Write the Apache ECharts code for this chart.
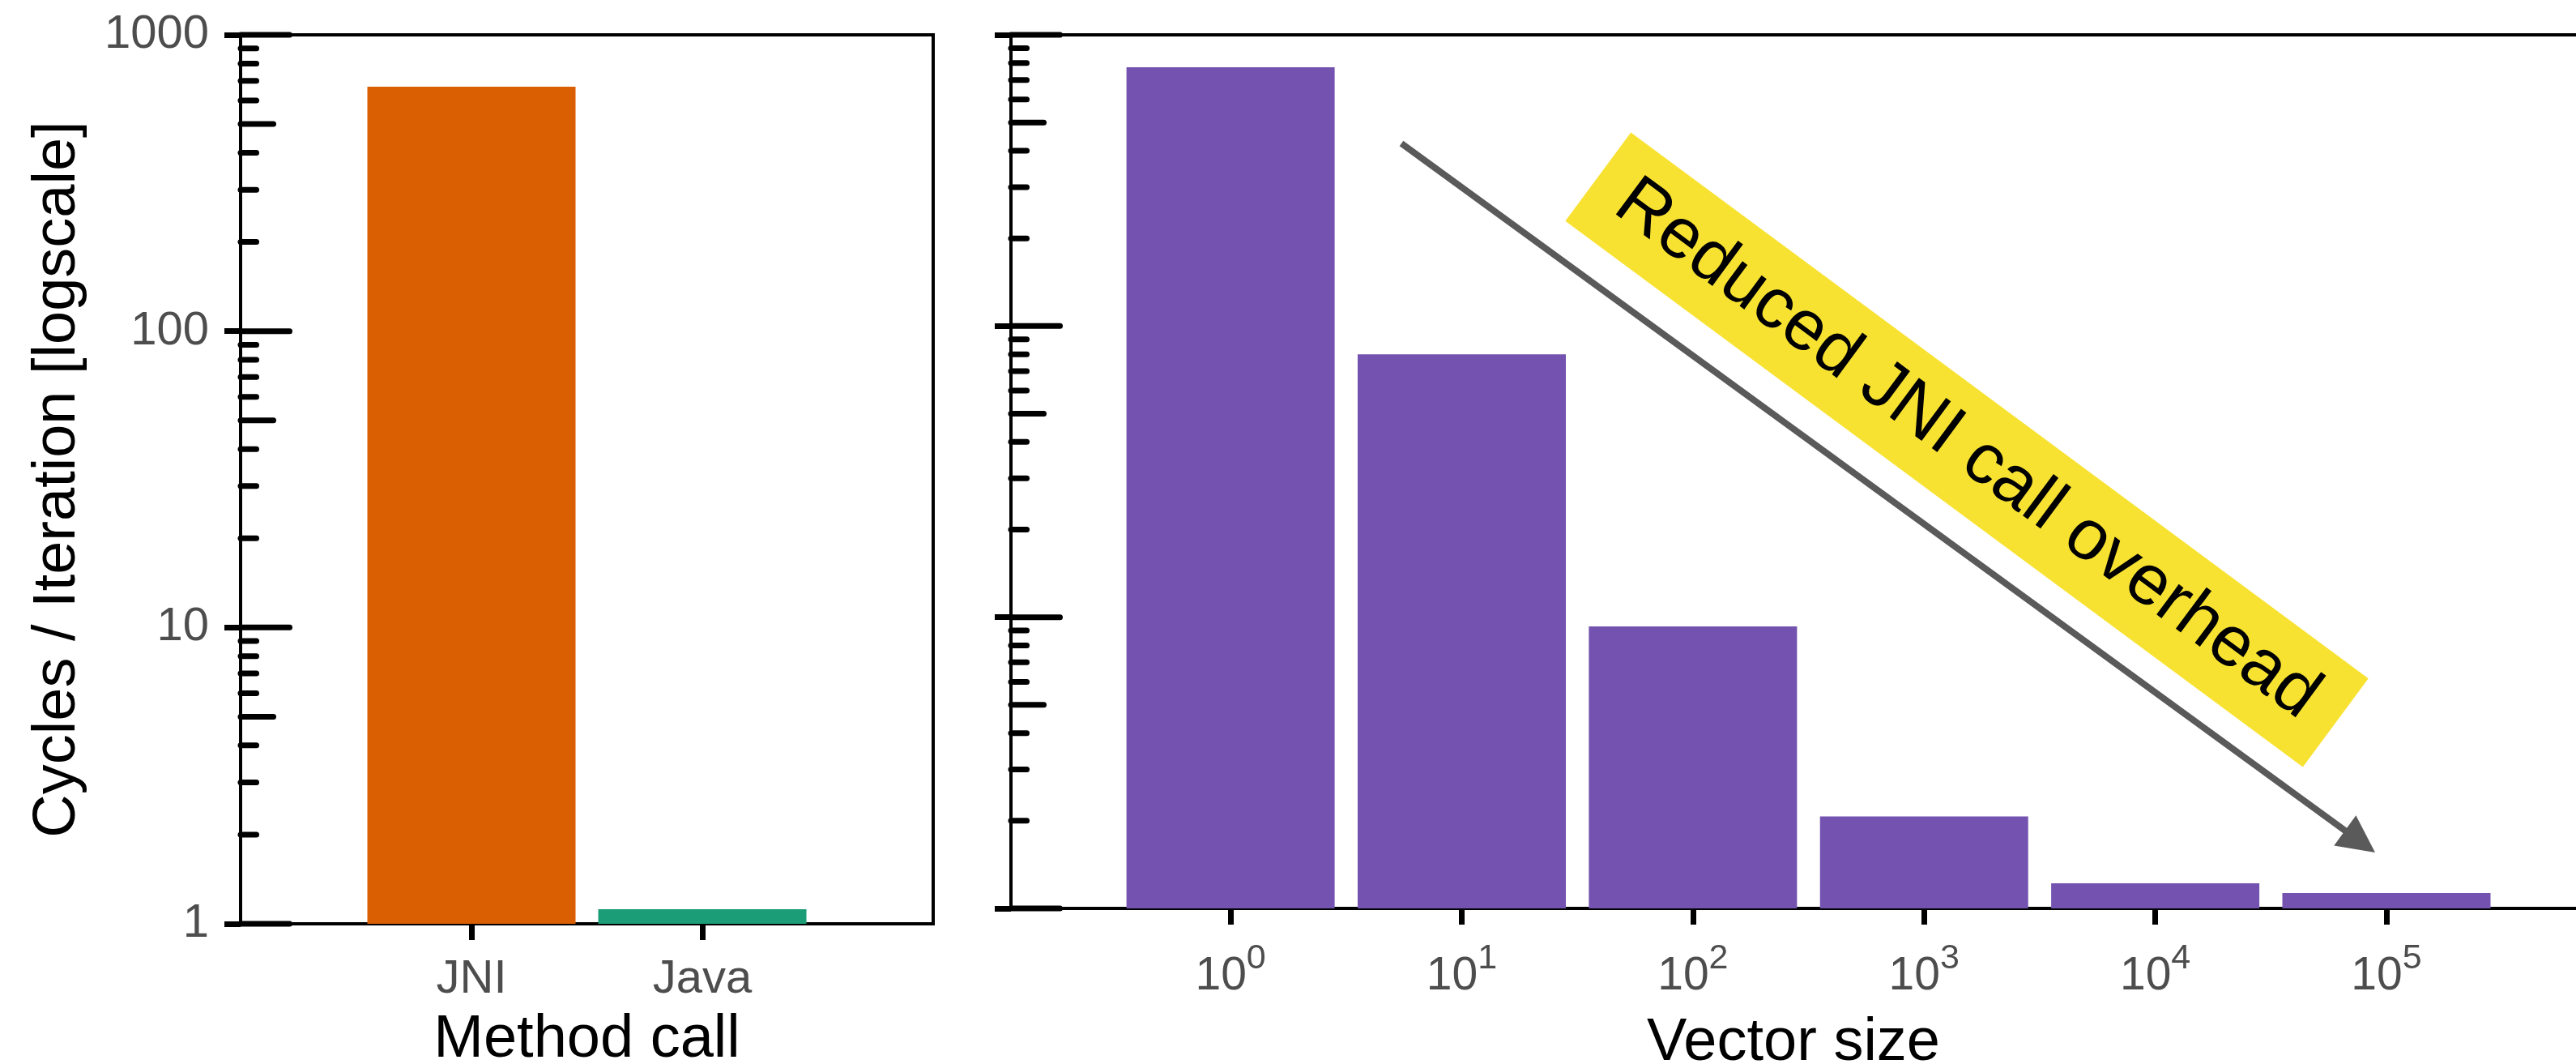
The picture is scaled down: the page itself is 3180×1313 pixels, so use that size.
<!DOCTYPE html>
<html><head><meta charset="utf-8">
<script src="https://cdn.jsdelivr.net/npm/echarts@6/dist/echarts.min.js"></script>
<style>html,body{margin:0;padding:0;background:#fff}#c{width:3180px;height:1313px}</style>
</head><body><div id="c"></div>
<script>
// ---- data ----
const methodCalls = ['JNI', 'Java'];
const methodPositions = [1, 2];
const methodCycles = [668, 1.12];
const methodColors = ['#d95f02', '#1b9e77'];
const vectorExponents = [0, 1, 2, 3, 4, 5];
const vectorCycles = [774, 80, 9.3, 2.07, 1.22, 1.13];
const vectorColor = '#7452b0';
const yTickLabels = ['1', '10', '100', '1000'];
const decadeTicks = [1, 10, 100, 1000];
const halfTicks = [5, 50, 500];
const minorTicks = [2,3,4,6,7,8,9,20,30,40,60,70,80,90,200,300,400,600,700,800,900];
const annotationText = 'Reduced JNI call overhead';
const arrowStart = [0.739, 424];
const arrowEnd = [4.951, 1.556];
const labelCenter = [3.185, 37.6];

const FONT = '"Liberation Sans", Arial, Helvetica, sans-serif';
const LEFT_X = [0, 3];
const RIGHT_X = [-0.95, 5.82];

function yAxisCfg(gridIndex, showLabels) {
  return {
    type: 'log', logBase: 10, gridIndex, min: 1, max: 1000, splitNumber: 3,
    axisLine: {show: true, onZero: false, lineStyle: {color: '#000', width: 4}},
    axisTick: {show: true, inside: false, length: 20, lineStyle: {color: '#000', width: 7}},
    axisLabel: {show: showLabels, color: '#4d4d4d', fontSize: 58, fontFamily: FONT, margin: 39,
      formatter: v => yTickLabels[Math.round(Math.log10(v))]},
    splitLine: {show: false},
    name: showLabels ? 'Cycles / Iteration [logscale]' : '',
    nameLocation: 'middle', nameGap: 188, nameMoveOverlap: false,
    nameTextStyle: {fontSize: 74, color: '#000', fontFamily: FONT}
  };
}

function tickData(xmin) {
  const d = [];
  decadeTicks.forEach(v => d.push([xmin, v, 64]));
  halfTicks.forEach(v => d.push([xmin, v, 44]));
  minorTicks.forEach(v => d.push([xmin, v, 23]));
  return d;
}
function tickSeries(idx, xmin) {
  return {
    type: 'custom', xAxisIndex: idx, yAxisIndex: idx, z: 5, silent: true,
    data: tickData(xmin),
    renderItem: (params, api) => {
      const p = api.coord([api.value(0), api.value(1)]);
      const x = params.coordSys.x;
      const len = api.value(2);
      return {type: 'line', shape: {x1: x, y1: p[1], x2: x + len - 3.5, y2: p[1]},
        style: {stroke: '#000', lineWidth: 7, lineCap: 'round'}};
    }
  };
}

const chart = echarts.init(document.getElementById('c'), null, {renderer: 'canvas'});
chart.setOption({
  animation: false,
  backgroundColor: '#fff',
  textStyle: {fontFamily: FONT},
  grid: [
    {left: 297, top: 43, width: 855, height: 1097, show: true, borderColor: '#000', borderWidth: 4,
      backgroundColor: 'transparent', containLabel: false, outerBoundsMode: 'none'},
    {left: 1248, top: 43, width: 1932, height: 1078, show: false, containLabel: false, outerBoundsMode: 'none'}
  ],
  xAxis: [
    {type: 'value', gridIndex: 0, min: LEFT_X[0], max: LEFT_X[1],
      axisLine: {show: true, onZero: false, lineStyle: {color: '#000', width: 4}},
      axisTick: {show: true, length: 20, customValues: methodPositions, lineStyle: {color: '#000', width: 7}},
      axisLabel: {customValues: methodPositions, color: '#4d4d4d', fontSize: 58, fontFamily: FONT, margin: 40,
        formatter: v => methodCalls[methodPositions.indexOf(Math.round(v))] || ''},
      splitLine: {show: false},
      name: 'Method call', nameLocation: 'middle', nameGap: 107, nameMoveOverlap: false,
      nameTextStyle: {fontSize: 74, color: '#000', fontFamily: FONT}},
    {type: 'value', gridIndex: 1, min: RIGHT_X[0], max: RIGHT_X[1],
      axisLine: {show: true, onZero: false, lineStyle: {color: '#000', width: 4}},
      axisTick: {show: true, length: 20, customValues: vectorExponents, lineStyle: {color: '#000', width: 7}},
      axisLabel: {customValues: vectorExponents, margin: 41,
        formatter: v => '{b|10}{s|' + Math.round(v) + '}',
        rich: {
          b: {fontSize: 57, color: '#4d4d4d', fontFamily: FONT, lineHeight: 72, verticalAlign: 'bottom'},
          s: {fontSize: 43, color: '#4d4d4d', fontFamily: FONT, lineHeight: 22, verticalAlign: 'top'}
        }},
      splitLine: {show: false},
      name: 'Vector size', nameLocation: 'middle', nameGap: 130, nameMoveOverlap: false,
      nameTextStyle: {fontSize: 74, color: '#000', fontFamily: FONT}},
    {type: 'value', gridIndex: 1, position: 'top', min: RIGHT_X[0], max: RIGHT_X[1],
      axisLine: {show: true, onZero: false, lineStyle: {color: '#000', width: 4}},
      axisTick: {show: false}, axisLabel: {show: false}, splitLine: {show: false}}
  ],
  yAxis: [yAxisCfg(0, true), yAxisCfg(1, false)],
  series: [
    {type: 'bar', xAxisIndex: 0, yAxisIndex: 0, barWidth: 257, z: 3,
      data: methodCycles.map((v, i) => ({value: [methodPositions[i], v], itemStyle: {color: methodColors[i]}}))},
    {type: 'bar', xAxisIndex: 1, yAxisIndex: 1, barWidth: 257, z: 3,
      itemStyle: {color: vectorColor},
      data: vectorCycles.map((v, i) => [vectorExponents[i], v])},
    tickSeries(0, LEFT_X[0]),
    tickSeries(1, RIGHT_X[0])
  ]
});

// ---- annotation (positions in data space of the right panel) ----
const p0 = chart.convertToPixel({xAxisIndex: 1, yAxisIndex: 1}, arrowStart);
const p1 = chart.convertToPixel({xAxisIndex: 1, yAxisIndex: 1}, arrowEnd);
const pc = chart.convertToPixel({xAxisIndex: 1, yAxisIndex: 1}, labelCenter);
const dx = p1[0] - p0[0], dy = p1[1] - p0[1];
const L = Math.hypot(dx, dy), ux = dx / L, uy = dy / L;
const headLen = 46, headHalf = 23;
const bx = p1[0] - ux * headLen, by = p1[1] - uy * headLen;
chart.setOption({
  graphic: [
    {type: 'line', z: 10, shape: {x1: p0[0], y1: p0[1], x2: bx + ux * 4, y2: by + uy * 4},
      style: {stroke: '#5a5a5a', lineWidth: 8}},
    {type: 'polygon', z: 10, shape: {points: [[p1[0], p1[1]], [bx - uy * headHalf, by + ux * headHalf], [bx + uy * headHalf, by - ux * headHalf]]},
      style: {fill: '#5a5a5a'}},
    {type: 'text', z: 11, x: pc[0], y: pc[1], rotation: -36.5 * Math.PI / 180,
      style: {text: annotationText, font: '88px ' + FONT, fill: '#000', align: 'center', verticalAlign: 'middle',
        backgroundColor: '#f8e231', padding: [18, 38], lineHeight: 100}}
  ]
});
</script>
</body></html>
